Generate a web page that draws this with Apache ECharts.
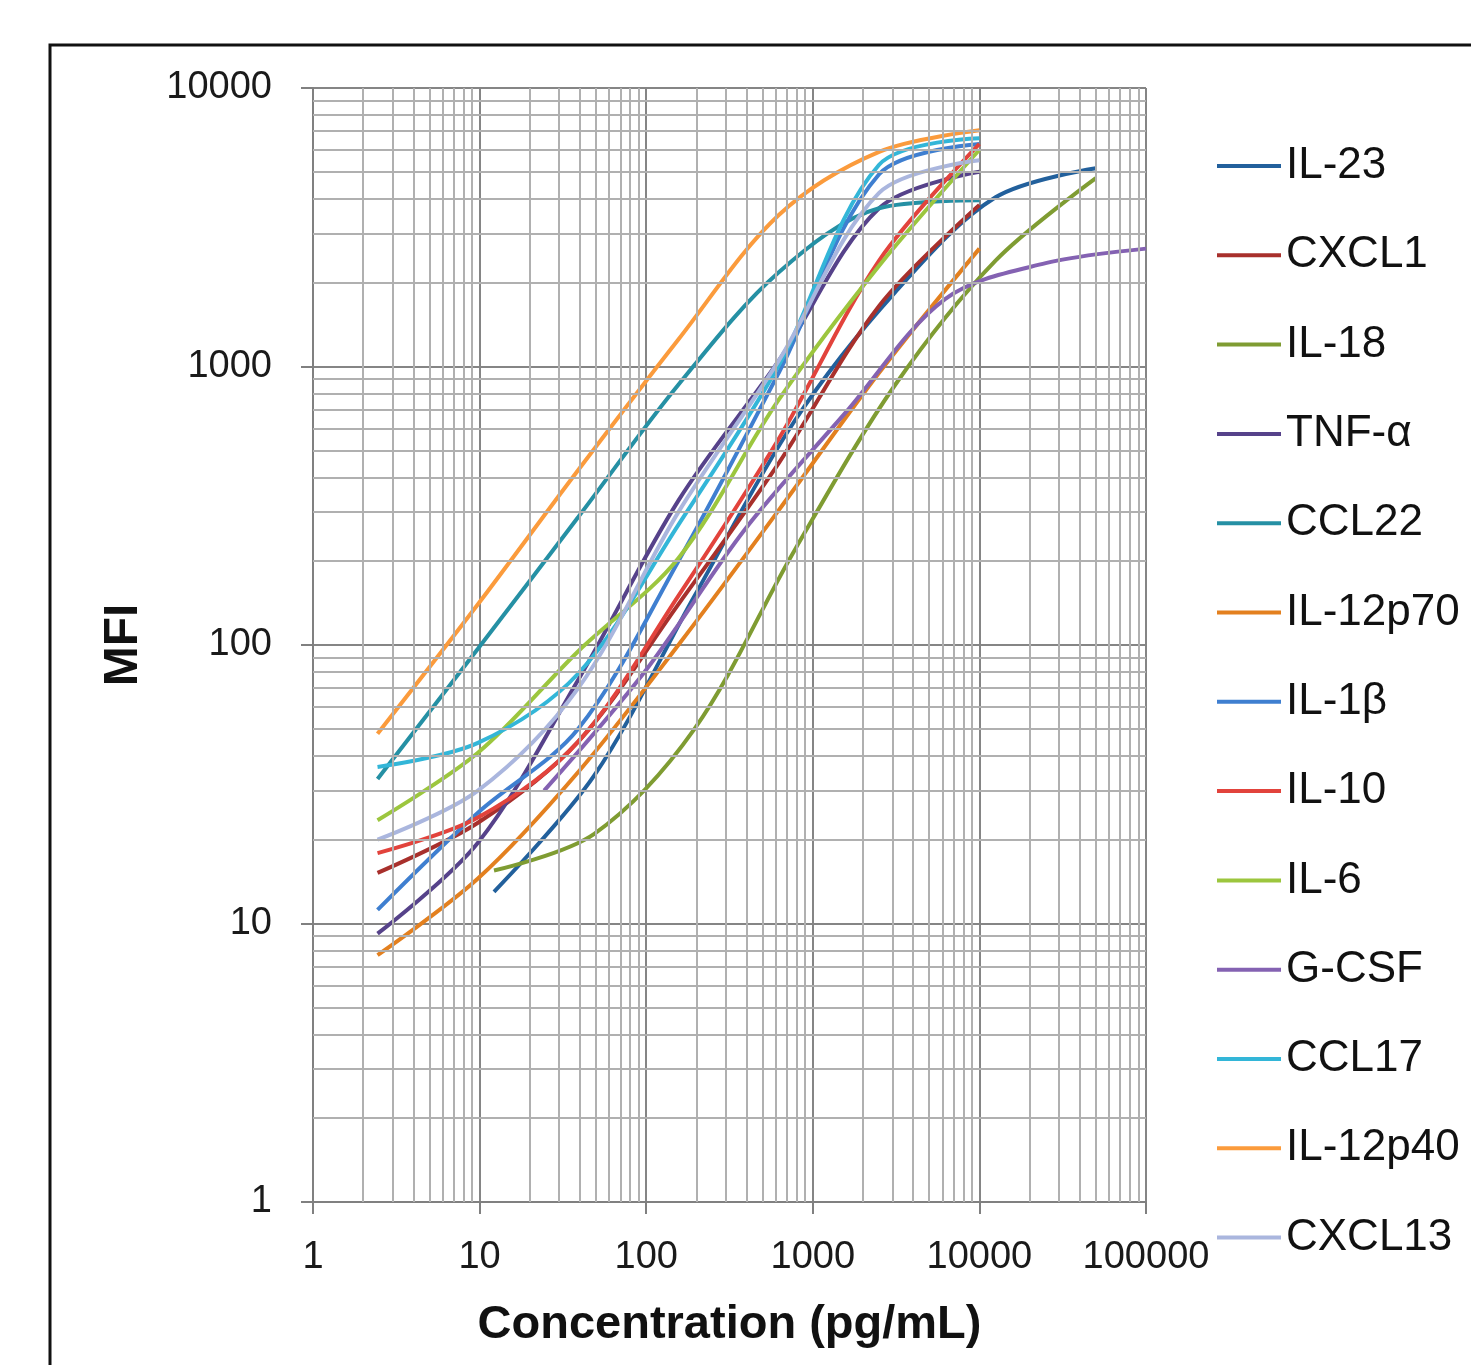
<!DOCTYPE html>
<html>
<head>
<meta charset="utf-8">
<script src="https://cdn.jsdelivr.net/npm/echarts@6/dist/echarts.min.js"></script>
<style>
  html, body { margin: 0; padding: 0; background: #fff; }
  #chart { width: 1471px; height: 1365px; }
</style>
</head>
<body>
<div id="chart"></div>
<script>
// ---- Data ----
const seriesNames = ['IL-23','CXCL1','IL-18','TNF-\u03b1','CCL22','IL-12p70','IL-1\u03b2','IL-10','IL-6','G-CSF','CCL17','IL-12p40','CXCL13'];
const seriesColors = ['#22609c','#a8302c','#7f9c32','#56428a','#2590a4','#e3801f','#3f7fd0','#e2433c','#9cc63e','#8462b2','#33b6d8','#fb9b3c','#aab6de'];

// concentrations (pg/mL)
const concStd  = [2.44, 9.77, 39.1, 156, 625, 2500, 10000];
const concHigh = [12.2, 48.8, 195, 781, 3125, 12500, 50000];
const concGcsf = [24.4, 97.7, 391, 1563, 6250, 25000, 100000];

// MFI values
const mfiIL23    = [13, 34, 150, 640, 1850, 4050, 5150];
const mfiCXCL1   = [15.2, 23, 45, 140, 450, 1650, 3800];
const mfiIL18    = [15.5, 21, 50, 220, 860, 2400, 4750];
const mfiTNFa    = [9.2, 19.5, 75, 330, 1050, 3700, 5000];
const mfiCCL22   = [33, 97, 288, 860, 2180, 3700, 3950];
const mfiIL12p70 = [7.7, 14.5, 35, 100, 305, 950, 2650];
const mfiIL1b    = [11.2, 25, 50, 200, 950, 4900, 6300];
const mfiIL10    = [17.9, 24, 45, 150, 550, 2400, 6300];
const mfiIL6     = [23.5, 41, 95, 205, 760, 2300, 6000];
const mfiGCSF    = [30, 80, 260, 680, 1750, 2350, 2650];
const mfiCCL17   = [36.5, 44.5, 79, 270, 1010, 5300, 6600];
const mfiIL12p40 = [48, 140, 425, 1250, 3500, 5900, 7050];
const mfiCXCL13  = [20, 30, 70, 300, 1050, 4200, 5500];

const seriesX = [concHigh, concStd, concHigh, concStd, concStd, concStd, concStd, concStd, concStd, concGcsf, concStd, concStd, concStd];
const seriesY = [mfiIL23, mfiCXCL1, mfiIL18, mfiTNFa, mfiCCL22, mfiIL12p70, mfiIL1b, mfiIL10, mfiIL6, mfiGCSF, mfiCCL17, mfiIL12p40, mfiCXCL13];

// axis ticks
const xMin = 1, xMax = 100000, yMin = 1, yMax = 10000;
const minorMultipliers = [2, 3, 4, 5, 6, 7, 8, 9];

// ---- Build options ----
const xMinor = [];
for (let d = xMin; d < xMax; d *= 10) minorMultipliers.forEach(m => xMinor.push(m * d));
const yMinor = [];
for (let d = yMin; d < yMax; d *= 10) minorMultipliers.forEach(m => yMinor.push(m * d));

const chart = echarts.init(document.getElementById('chart'), null, { renderer: 'canvas' });

const dataSeries = seriesNames.map((name, i) => ({
  name: name,
  type: 'line',
  data: seriesX[i].map((x, j) => [x, seriesY[i][j]]),
  smooth: 0.33,
  symbol: 'none',
  showSymbol: false,
  z: 3,
  lineStyle: { width: 4, color: seriesColors[i] },
  itemStyle: { color: seriesColors[i] },
  animation: false
}));

const gridSeries = {
  type: 'line',
  data: [],
  z: 1,
  silent: true,
  animation: false,
  markLine: {
    silent: true,
    symbol: ['none', 'none'],
    label: { show: false },
    animation: false,
    lineStyle: { color: '#b0b0b0', width: 2, type: 'solid' },
    emphasis: { disabled: true },
    data: xMinor.map(v => ({ xAxis: v })).concat(yMinor.map(v => ({ yAxis: v })))
  }
};

const labelFont = 'Liberation Sans, Arial, sans-serif';

chart.setOption({
  backgroundColor: '#ffffff',
  animation: false,
  grid: { left: 313, top: 88, right: 325, bottom: 163, containLabel: false },
  legend: {
    data: seriesNames,
    orient: 'vertical',
    left: 1212,
    top: 136,
    icon: 'rect',
    itemWidth: 64,
    itemHeight: 4,
    itemGap: 39.3,
    textStyle: { fontFamily: labelFont, fontSize: 44, color: '#111', lineHeight: 50 }
  },
  xAxis: {
    type: 'log',
    logBase: 10,
    min: xMin,
    max: xMax,
    name: 'Concentration (pg/mL)',
    nameLocation: 'middle',
    nameGap: 100,
    nameTextStyle: { fontFamily: labelFont, fontSize: 47, fontWeight: 'bold', color: '#111' },
    axisLine: { show: true, lineStyle: { color: '#808080', width: 2 } },
    axisTick: { show: true, inside: false, length: 12, lineStyle: { color: '#808080', width: 2 } },
    axisLabel: { margin: 37, fontFamily: labelFont, fontSize: 38, color: '#1a1a1a', formatter: v => String(Math.round(v)) },
    splitLine: { show: true, lineStyle: { color: '#858585', width: 2 } }
  },
  yAxis: {
    type: 'log',
    logBase: 10,
    min: yMin,
    max: yMax,
    name: 'MFI',
    nameLocation: 'middle',
    nameGap: 165,
    nameRotate: 90,
    nameTextStyle: { fontFamily: labelFont, fontSize: 48, fontWeight: 'bold', color: '#111' },
    axisLine: { show: true, lineStyle: { color: '#808080', width: 2 } },
    axisTick: { show: true, inside: false, length: 12, lineStyle: { color: '#808080', width: 2 } },
    axisLabel: { margin: 41, fontFamily: labelFont, fontSize: 38, color: '#1a1a1a', formatter: v => String(Math.round(v)) },
    splitLine: { show: true, lineStyle: { color: '#858585', width: 2 } }
  },
  graphic: [{
    type: 'rect',
    silent: true,
    shape: { x: 50, y: 45, width: 1500, height: 1400 },
    style: { fill: 'none', stroke: '#111', lineWidth: 3 },
    z: 100
  }],
  series: [gridSeries].concat(dataSeries)
});
</script>
</body>
</html>
